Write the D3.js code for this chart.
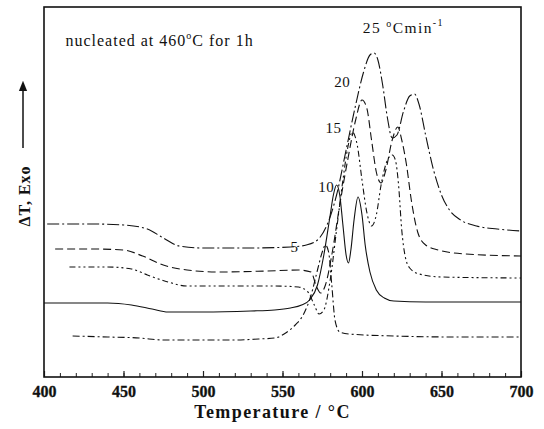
<!DOCTYPE html>
<html>
<head>
<meta charset="utf-8">
<script src="https://cdn.jsdelivr.net/npm/d3@7"></script>
<style>
  body { margin: 0; background: #fff; }
  svg text { font-family: "Liberation Serif", "Times New Roman", serif; fill: #111; }
  .xlabels text { font-weight: 700; font-size: 16px; }
</style>
</head>
<body>
<div id="chart"></div>
<script>
// heating rates (°C/min) and their DTA traces (temperature, signal in arbitrary units)
const rates = [5, 10, 15, 20, 25];

const temp5 = [418, 440, 460, 475, 500, 520, 535, 545, 552, 558, 563, 568, 572, 575, 577, 579, 581, 583, 586, 592, 620, 660, 700];
const dta5  = [41, 40, 39, 37, 37, 37, 38, 39, 44, 52, 62, 82, 107, 125, 132, 125, 92, 57, 45, 43, 41, 40, 40];

const temp10 = [400, 420, 440, 455, 468, 478, 500, 530, 545, 555, 562, 567, 572, 576, 580, 582, 584, 586, 588, 590, 591.5, 593, 595, 597.5, 600, 602, 605, 609, 614, 620, 640, 700];
const dta10  = [74, 74, 74, 72, 68, 65, 65, 66, 67, 69, 72, 77, 92, 122, 162, 182, 192, 182, 152, 122, 114, 127, 157, 180, 162, 132, 105, 87, 79, 76, 75, 75];

const temp15 = [416, 440, 455, 465, 478, 490, 520, 545, 560, 566, 570, 573, 576, 580, 584, 588, 591, 594, 597, 600, 603, 606, 609, 612, 616, 619, 621, 623, 625, 627, 630, 636, 650, 700];
const dta15  = [110, 110, 108, 102, 95, 91, 91, 91, 90, 85, 72, 63, 67, 97, 147, 197, 229, 245, 232, 197, 165, 151, 162, 192, 217, 222, 217, 192, 147, 122, 109, 103, 100, 99];

const temp20 = [407, 430, 450, 462, 475, 490, 510, 540, 560, 568, 571, 574, 577, 581, 586, 591, 596, 600, 603, 606, 609, 612, 615, 619, 622.5, 625, 628, 631, 635, 640, 648, 665, 700];
const dta20  = [128, 128, 127, 121, 112, 107, 105, 106, 107, 105, 92, 84, 92, 122, 172, 217, 257, 277, 269, 237, 205, 194, 207, 237, 250, 237, 212, 177, 145, 132, 127, 123, 121];

const temp25 = [402, 430, 450, 465, 475, 485, 500, 530, 555, 565, 572, 578, 584, 590, 596, 601, 605, 607.5, 610, 613, 616, 619, 622, 626, 630, 633, 636, 640, 645, 650, 655, 662, 672, 685, 700];
const dta25  = [153, 153, 152, 148, 139, 131, 129, 129, 130, 132, 137, 152, 182, 227, 272, 305, 322, 324, 317, 292, 259, 239, 242, 265, 281, 283, 272, 242, 207, 182, 167, 157, 151, 148, 146];

const xTicks = [400, 450, 500, 550, 600, 650, 700];

// label text placed next to each trace
const rateLabels = [
  { t: 555, v: 125, text: "5" },
  { t: 572.5, v: 185, text: "10" },
  { t: 577, v: 244, text: "15" },
  { t: 582.5, v: 290, text: "20" }
];

const series = [
  { t: temp5,  v: dta5,  dash: "7,3,2,3" },
  { t: temp10, v: dta10, dash: null },
  { t: temp15, v: dta15, dash: "6,3,2,3,2,3" },
  { t: temp20, v: dta20, dash: "8,4" },
  { t: temp25, v: dta25, dash: "12,3,2,3" }
];

const W = 544, H = 429;
const margin = { top: 7, right: 23, bottom: 52, left: 44 };
const width = W - margin.left - margin.right;
const height = H - margin.top - margin.bottom;

const svg = d3.select("#chart").append("svg")
    .attr("width", W)
    .attr("height", H);

const g = svg.append("g")
    .attr("transform", `translate(${margin.left},${margin.top})`);

const x = d3.scaleLinear().domain([400, 700]).range([0, width]);
const y = d3.scaleLinear().domain([0, 370]).range([height, 0]);

// bottom axis: minor ticks every 10, major every 50, pointing inward
const minor = d3.range(400, 701, 10);
g.append("g")
    .attr("transform", `translate(0,${height})`)
    .call(d3.axisBottom(x).tickValues(minor).tickSize(-4).tickFormat(""))
    .call(a => a.select(".domain").remove())
    .selectAll("line").attr("stroke", "#222").attr("stroke-width", 1);

g.append("g")
    .attr("class", "xlabels")
    .attr("transform", `translate(0,${height})`)
    .call(d3.axisBottom(x).tickValues(xTicks).tickSize(-6).tickPadding(9).tickFormat(d3.format("d")))
    .call(a => a.select(".domain").remove())
    .call(a => a.selectAll("line").attr("stroke", "#222").attr("stroke-width", 1.2))
    .call(a => a.selectAll("text").attr("stroke", "#111").attr("stroke-width", 0.3));

// frame
g.append("rect")
    .attr("width", width)
    .attr("height", height)
    .attr("fill", "none")
    .attr("stroke", "#111")
    .attr("stroke-width", 1.6);

// traces
const line = d3.line()
    .x(d => x(d[0]))
    .y(d => y(d[1]))
    .curve(d3.curveMonotoneX);

series.forEach(s => {
  const pts = s.t.map((t, i) => [t, s.v[i]]);
  g.append("path")
      .datum(pts)
      .attr("fill", "none")
      .attr("stroke", "#111")
      .attr("stroke-width", 1.1)
      .attr("stroke-dasharray", s.dash)
      .attr("d", line);
});

// rate labels
rateLabels.forEach(l => {
  g.append("text")
      .attr("x", x(l.t))
      .attr("y", y(l.v))
      .attr("font-size", "15px")
      .attr("letter-spacing", "0.5px")
      .text(l.text);
});

const topLabel = g.append("text")
    .attr("x", x(600.5))
    .attr("y", y(344))
    .attr("font-size", "15.5px")
    .attr("letter-spacing", "1.4px");
topLabel.append("tspan").text("25 ");
topLabel.append("tspan").attr("font-size", "10px").attr("dy", -6).text("o");
topLabel.append("tspan").attr("dy", 6).text("Cmin");
topLabel.append("tspan").attr("font-size", "10px").attr("dy", -7).text("-1");

const note = g.append("text")
    .attr("x", x(413.5))
    .attr("y", y(331))
    .attr("font-size", "16px")
    .attr("letter-spacing", "1px");
note.append("tspan").text("nucleated at 460");
note.append("tspan").attr("font-size", "10px").attr("dy", -7).text("o");
note.append("tspan").attr("dy", 7).text("C for 1h");

// x title
svg.append("text")
    .attr("x", margin.left + width / 2 - 10)
    .attr("y", 418)
    .attr("text-anchor", "middle")
    .attr("font-size", "18px")
    .attr("font-weight", "bold")
    .attr("letter-spacing", "1.4px")
    .text("Temperature / °C");

// y title with arrow
svg.append("text")
    .attr("transform", "translate(30,196) rotate(-90)")
    .attr("text-anchor", "middle")
    .attr("font-size", "16px")
    .attr("font-weight", "bold")
    .attr("letter-spacing", "1px")
    .text("ΔT, Exo");

svg.append("defs").append("marker")
    .attr("id", "arrow")
    .attr("viewBox", "0 0 10 10")
    .attr("refX", 5).attr("refY", 5)
    .attr("markerWidth", 7).attr("markerHeight", 7)
    .attr("orient", "auto")
    .append("path")
    .attr("d", "M0,1 L10,5 L0,9 Z")
    .attr("fill", "#111");

svg.append("line")
    .attr("x1", 23).attr("x2", 23)
    .attr("y1", 148).attr("y2", 86)
    .attr("stroke", "#111")
    .attr("stroke-width", 1.5)
    .attr("marker-end", "url(#arrow)");
</script>
</body>
</html>
